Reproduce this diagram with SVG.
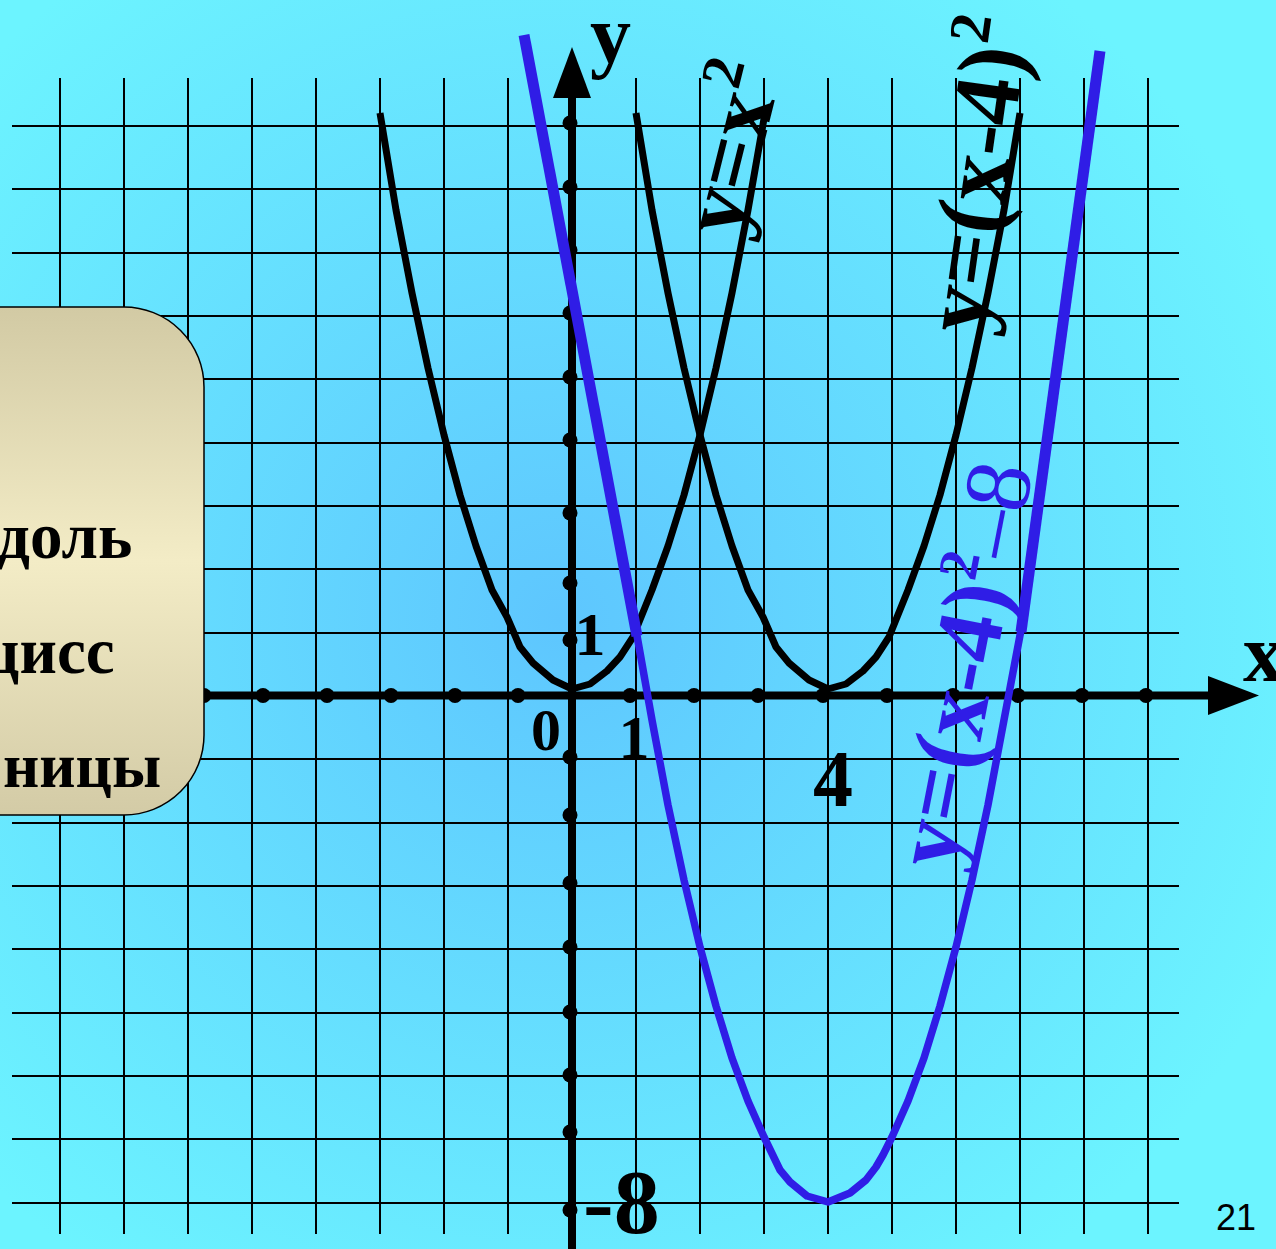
<svg xmlns="http://www.w3.org/2000/svg" width="1276" height="1249" viewBox="0 0 1276 1249">
<defs>
<radialGradient id="bg" cx="560" cy="620" r="800" gradientUnits="userSpaceOnUse">
<stop offset="0" stop-color="#5EC6FE"/>
<stop offset="1" stop-color="#6CF4FF"/>
</radialGradient>
<linearGradient id="boxg" x1="0" y1="307" x2="0" y2="815" gradientUnits="userSpaceOnUse">
<stop offset="0" stop-color="#D2CAA4"/>
<stop offset="0.5" stop-color="#F3ECC6"/>
<stop offset="1" stop-color="#D3CBA6"/>
</linearGradient>
</defs>
<style>
.grid{fill:none;stroke:#000;stroke-width:2}
.axis{fill:none;stroke:#000;stroke-width:8}
.dot{fill:#000}
.curve{fill:none;stroke:#000;stroke-width:7;stroke-linejoin:round}
.bthick{fill:none;stroke:#2F1DE6;stroke-width:11}
.bthin{fill:none;stroke:#2F1DE6;stroke-width:7.5;stroke-linejoin:round}
.t{font-family:"Liberation Serif","Times New Roman",serif;font-weight:bold;fill:#000}
.tb{fill:#2F1DE6}
</style>
<rect width="1276" height="1249" fill="url(#bg)"/>
<g id="grid">
<path class="grid" d="M60 78V1234M124 78V1234M188 78V1234M252 78V1234M316 78V1234M380 78V1234M444 78V1234M508 78V1234M572 78V1234M636 78V1234M700 78V1234M764 78V1234M828 78V1234M892 78V1234M956 78V1234M1020 78V1234M1084 78V1234M1148 78V1234"/>
<path class="grid" d="M12 126H1179M12 189H1179M12 253H1179M12 316H1179M12 379H1179M12 443H1179M12 506H1179M12 569H1179M12 633H1179M12 695H1179M12 759H1179M12 823H1179M12 886H1179M12 949H1179M12 1013H1179M12 1076H1179M12 1139H1179M12 1203H1179"/>
</g>
<g id="axes">
<path class="axis" d="M0 695.5H1212"/>
<polygon points="1208,676 1259,695.5 1208,715" fill="#000"/>
<path class="axis" d="M572 1249V95"/>
<polygon points="553,98 591,98 572,47" fill="#000"/>
<g class="dot">
<circle cx="204" cy="695.5" r="7.5"/><circle cx="263" cy="695.5" r="7.5"/><circle cx="327" cy="695.5" r="7.5"/><circle cx="391" cy="695.5" r="7.5"/><circle cx="455" cy="695.5" r="7.5"/><circle cx="518" cy="695.5" r="7.5"/><circle cx="630" cy="695.5" r="7.5"/><circle cx="694" cy="695.5" r="7.5"/><circle cx="758" cy="695.5" r="7.5"/><circle cx="823" cy="695.5" r="7.5"/><circle cx="887" cy="695.5" r="7.5"/><circle cx="953" cy="695.5" r="7.5"/><circle cx="1018" cy="695.5" r="7.5"/><circle cx="1082" cy="695.5" r="7.5"/><circle cx="1146" cy="695.5" r="7.5"/>
<circle cx="570" cy="123" r="7.5"/><circle cx="570" cy="187" r="7.5"/><circle cx="570" cy="250" r="7.5"/><circle cx="570" cy="313" r="7.5"/><circle cx="570" cy="377" r="7.5"/><circle cx="570" cy="440" r="7.5"/><circle cx="570" cy="513" r="7.5"/><circle cx="570" cy="583" r="7.5"/><circle cx="570" cy="640" r="7.5"/><circle cx="570" cy="757" r="7.5"/><circle cx="570" cy="815" r="7.5"/><circle cx="570" cy="883" r="7.5"/><circle cx="570" cy="947" r="7.5"/><circle cx="570" cy="1012" r="7.5"/><circle cx="570" cy="1075" r="7.5"/><circle cx="570" cy="1132" r="7.5"/><circle cx="570" cy="1210" r="7.5"/>
</g>
</g>
<g id="curves">
<path id="parab1" class="curve" d="M380 113L396 210L412 293L428 368L444 435L460 495L476 546L492 590L507 617L520 647L533 663L553 680L572 689L590 684L607 671L620 657L633 637L652 590L668 546L684 495L700 435L716 368L732 293L748 210L765 113"/>
<path id="parab2" class="curve" d="M636 113L652 210L668 293L684 368L700 435L716 495L732 546L748 590L763 617L776 647L789 663L809 680L828 689L846 684L863 671L876 657L889 637L908 590L924 546L940 495L956 435L972 368L988 293L1004 210L1020 113"/>
<path id="parab3a" class="bthick" d="M524 35L637 636"/>
<path id="parab3b" class="bthin" d="M636 630L652 720L668 805L684 880L700 947L716 1006L732 1058L748 1101L764 1137L780 1170L790 1182L807 1196L828 1202L850 1193L866 1180L876 1167L883 1155L892 1137L908 1101L924 1058L940 1006L956 947L972 880L988 805L1004 720L1021 630"/>
<path id="parab3c" class="bthick" d="M1021 632L1100 51"/>
</g>
<g id="box">
<rect x="-120" y="307" width="324" height="508" rx="80" ry="80" fill="url(#boxg)" stroke="#000" stroke-width="1.5"/>
<text class="t" x="-3" y="558" font-size="65">доль</text>
<text class="t" x="-18" y="673" font-size="65">цисс</text>
<text class="t" x="3" y="787" font-size="63">ницы</text>
</g>
<g id="labels">
<text class="t" x="590" y="62" font-size="82">y</text>
<text class="t" x="1243" y="681" font-size="82">x</text>
<text class="t" x="531" y="750" font-size="60">0</text>
<text class="t" x="634" y="758" font-size="62" text-anchor="middle">1</text>
<text class="t" x="590" y="655" font-size="62" text-anchor="middle">1</text>
<text class="t" x="813" y="806" font-size="80">4</text>
<text class="t" x="583" y="1233" font-size="92">-8</text>
<text x="1216" y="1230" font-size="36" font-family="Liberation Sans, Arial, sans-serif" fill="#000">21</text>
<text class="t" font-size="92" transform="translate(740 240) rotate(-76)">y=x<tspan font-size="58" dy="-38">2</tspan></text>
<text class="t" font-size="94" transform="translate(985 336) rotate(-82)">y=(x-4)<tspan font-size="58" dy="-38">2</tspan></text>
<text class="t tb" font-size="94" transform="translate(955 872) rotate(-79)">y=(x-4)<tspan font-size="56" dy="-36">2</tspan><tspan dy="36" font-weight="normal">–8</tspan></text>
</g>
</svg>
